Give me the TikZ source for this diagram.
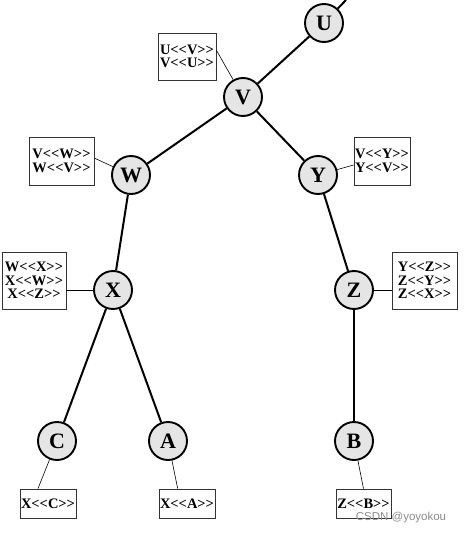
\documentclass[tikz,border=0pt]{standalone}
\usepackage{fontspec}
\setmainfont{Liberation Serif}
\newfontfamily\wmfont{Liberation Sans}
\begin{document}
\begin{tikzpicture}[x=1pt,y=-1pt,
  vert/.style={circle,draw=black,line width=1.9pt,fill=black!10,minimum size=38pt,inner sep=0pt,font=\fontsize{22}{22}\selectfont\bfseries},
  info/.style={draw=black!80,line width=0.8pt,fill=white,inner sep=0pt,align=center,font=\fontsize{14.5}{13.5}\selectfont\bfseries},
  tree/.style={line width=2pt},
  lnk/.style={line width=0.6pt}]
\useasboundingbox (0,0) rectangle (463,535);
% vertices
\node[vert] (U) at (324,23) {U};
\node[vert] (V) at (243,97) {V};
\node[vert] (W) at (131,175) {W};
\node[vert] (Y) at (318,175) {Y};
\node[vert] (X) at (113,290) {X};
\node[vert] (Z) at (354,290) {Z};
\node[vert] (C) at (57,441) {C};
\node[vert] (A) at (168,441) {A};
\node[vert] (B) at (354,441) {B};
\coordinate (top) at (346,0);
% info boxes
\node[info,minimum width=58pt,minimum height=47pt] (uv) at (187,56.5) {U<{}<V>{}>\\V<{}<U>{}>};
\node[info,minimum width=65pt,minimum height=48pt] (vw) at (61.5,161) {V<{}<W>{}>\\W<{}<V>{}>};
\node[info,minimum width=56pt,minimum height=48pt] (vy) at (382,161) {V<{}<Y>{}>\\Y<{}<V>{}>};
\node[info,minimum width=64pt,minimum height=57pt] (wx) at (34,280.5) {W<{}<X>{}>\\X<{}<W>{}>\\X<{}<Z>{}>};
\node[info,minimum width=65pt,minimum height=57pt] (yz) at (424.5,280.5) {Y<{}<Z>{}>\\Z<{}<Y>{}>\\Z<{}<X>{}>};
\node[info,minimum width=56pt,minimum height=29pt] (xc) at (48,503.5) {X<{}<C>{}>};
\node[info,minimum width=56pt,minimum height=29pt] (xa) at (187,503.5) {X<{}<A>{}>};
\node[info,minimum width=55pt,minimum height=29pt] (zb) at (363.5,503.5) {Z<{}<B>{}>};
% tree edges
\draw[tree] (U) -- (top);
\draw[tree] (U) -- (V);
\draw[tree] (V) -- (W);
\draw[tree] (V) -- (Y);
\draw[tree] (W) -- (X);
\draw[tree] (Y) -- (Z);
\draw[tree] (X) -- (C);
\draw[tree] (X) -- (A);
\draw[tree] (Z) -- (B);
% box links
\draw[lnk] (uv.12.6) -- (V);
\draw[lnk] (vw.5) -- (W);
\draw[lnk] (vy.188) -- (Y);
\draw[lnk] (X.west) -- (X.west -| wx.east);
\draw[lnk] (Z.east) -- (Z.east -| yz.west);
\draw[lnk] (xc.124.6) -- (C);
\draw[lnk] (xa.122) -- (A);
\draw[lnk] (zb.north) -- (B);
% watermark
\node[text=black!45,font=\wmfont\fontsize{11.5}{12}\selectfont] (wm) at (401,518) {CSDN @yoyokou};
\end{tikzpicture}
\end{document}
